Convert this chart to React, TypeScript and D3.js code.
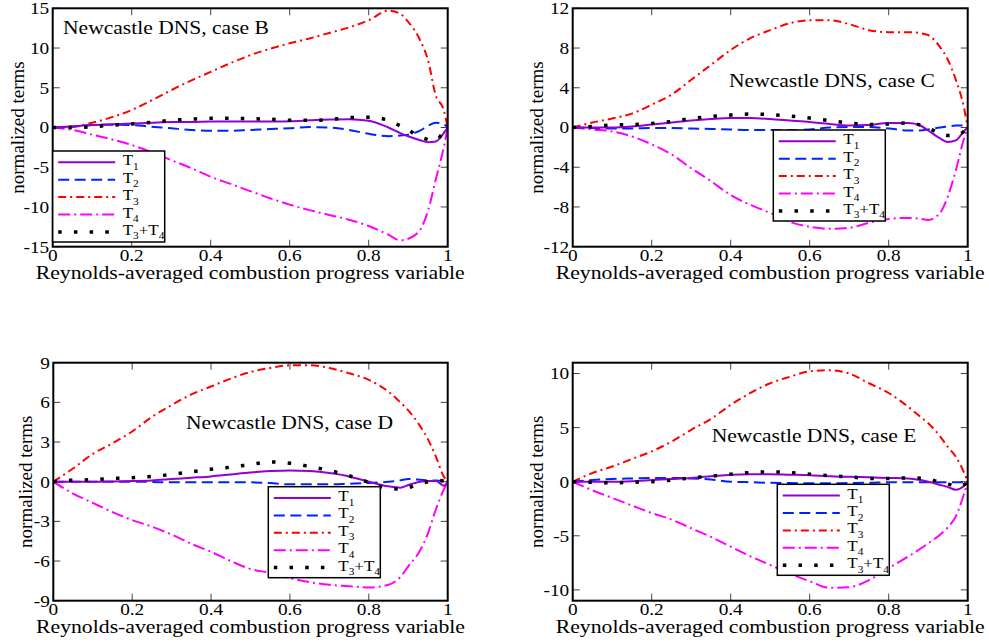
import React from 'react';
import * as d3 from 'd3';

// shared abscissa grid (Reynolds-averaged progress variable)
const xGrid = [0, 0.05, 0.1, 0.15, 0.2, 0.25, 0.3, 0.35, 0.4, 0.45, 0.5, 0.55, 0.6, 0.65, 0.7, 0.75, 0.8, 0.85, 0.88, 0.9, 0.93, 0.95, 0.97, 0.99, 1];
const xTicks = [0, 0.2, 0.4, 0.6, 0.8, 1];
const xTickLabels = ['0', '0.2', '0.4', '0.6', '0.8', '1'];

// case B
const caseB_T1 = [0, 0.15, 0.3, 0.4, 0.5, 0.6, 0.7, 0.7, 0.75, 0.75, 0.75, 0.75, 0.8, 0.9, 1.0, 1.05, 0.85, 0.0, -0.7, -1.1, -1.6, -1.85, -1.75, -0.7, 0];
const caseB_T2 = [0, 0.1, 0.3, 0.35, 0.3, 0.1, -0.1, -0.3, -0.4, -0.4, -0.3, -0.2, -0.1, 0.05, 0.0, -0.3, -0.8, -1.1, -1.0, -0.9, -0.4, 0.2, 0.6, 0.4, 0];
const caseB_T3 = [0, 0.1, 0.6, 1.3, 2.2, 3.4, 4.7, 5.9, 7.0, 8.1, 9.1, 9.9, 10.6, 11.2, 11.9, 12.6, 13.5, 14.7, 14.3, 13.3, 11.0, 8.5, 4.0, 2.2, 0];
const caseB_T4 = [0, -0.3, -0.9, -1.5, -2.2, -3.1, -4.1, -5.1, -6.2, -7.1, -8.0, -8.9, -9.7, -10.4, -11.0, -11.6, -12.4, -13.5, -14.2, -14.0, -12.9, -10.5, -6.5, -2.5, 0];
const caseB_T34 = [0, 0.0, 0.1, 0.3, 0.45, 0.65, 0.9, 1.05, 1.15, 1.15, 1.1, 1.05, 0.9, 0.9, 1.0, 1.25, 1.3, 0.9, 0.2, -0.3, -1.2, -1.5, -1.6, -0.5, 0];

// case C
const caseC_T1 = [0, 0.0, 0.0, 0.1, 0.3, 0.5, 0.7, 0.85, 0.95, 0.95, 0.85, 0.7, 0.55, 0.35, 0.2, 0.25, 0.45, 0.45, 0.2, -0.3, -1.1, -1.45, -1.3, -0.4, 0];
const caseC_T2 = [0, -0.05, -0.1, -0.1, -0.05, -0.05, -0.1, -0.15, -0.2, -0.25, -0.25, -0.25, -0.2, 0.0, 0.05, 0.05, -0.1, -0.3, -0.3, -0.2, 0.0, 0.1, 0.2, 0.2, 0];
const caseC_T3 = [0, 0.5, 0.9, 1.4, 2.3, 3.3, 4.8, 6.3, 7.8, 9.0, 9.8, 10.5, 10.8, 10.8, 10.4, 9.8, 9.6, 9.6, 9.5, 9.3, 8.1, 6.8, 4.8, 2.1, 0];
const caseC_T4 = [0, -0.2, -0.4, -0.9, -1.7, -2.7, -4.1, -5.4, -6.8, -7.8, -8.6, -9.5, -10.0, -10.2, -10.1, -9.6, -9.2, -9.1, -9.2, -9.3, -8.6, -6.9, -4.3, -1.2, 0];
const caseC_T34 = [0, 0.1, 0.25, 0.3, 0.4, 0.6, 0.9, 1.1, 1.25, 1.35, 1.3, 1.15, 0.95, 0.7, 0.45, 0.3, 0.35, 0.45, 0.25, -0.05, -0.6, -0.8, -0.8, -0.4, 0];

// case D
const caseD_T1 = [0, 0, 0, 0.02, 0.05, 0.1, 0.2, 0.3, 0.4, 0.55, 0.7, 0.8, 0.85, 0.8, 0.65, 0.4, 0.0, -0.35, -0.45, -0.25, 0.0, 0.05, 0.05, -0.3, 0];
const caseD_T2 = [0, 0, 0, 0, 0, -0.02, -0.05, -0.05, -0.05, -0.05, -0.05, -0.1, -0.2, -0.2, -0.2, -0.15, -0.1, 0.0, 0.1, 0.2, 0.15, 0.1, 0.1, 0.05, 0];
const caseD_T3 = [0, 1.0, 2.1, 2.9, 3.8, 4.9, 5.8, 6.6, 7.2, 7.8, 8.3, 8.6, 8.8, 8.8, 8.6, 8.2, 7.7, 6.8, 6.0, 5.4, 4.2, 3.2, 1.9, 0.4, 0];
const caseD_T4 = [0, -0.9, -1.6, -2.3, -2.9, -3.4, -4.0, -4.7, -5.3, -6.0, -6.6, -6.9, -7.3, -7.6, -7.8, -7.9, -8.0, -7.8, -7.2, -6.4, -5.2, -3.9, -2.1, -0.6, 0];
const caseD_T34 = [0, 0.12, 0.15, 0.25, 0.3, 0.4, 0.55, 0.75, 0.95, 1.1, 1.3, 1.5, 1.4, 1.15, 0.85, 0.45, -0.05, -0.5, -0.55, -0.45, -0.15, 0.0, 0.1, 0.05, 0];

// case E
const caseE_T1 = [0, 0, 0, 0.05, 0.15, 0.25, 0.35, 0.5, 0.65, 0.7, 0.7, 0.65, 0.6, 0.5, 0.45, 0.4, 0.35, 0.3, 0.15, 0.0, -0.3, -0.5, -0.75, -0.4, 0];
const caseE_T2 = [0, 0.15, 0.25, 0.3, 0.35, 0.35, 0.3, 0.2, 0.0, -0.05, -0.1, -0.12, -0.15, -0.15, -0.12, -0.1, -0.05, -0.05, -0.05, -0.05, -0.05, -0.05, -0.05, -0.05, 0];
const caseE_T3 = [0, 0.8, 1.4, 2.1, 2.8, 3.7, 4.8, 5.8, 7.1, 8.2, 9.1, 9.7, 10.2, 10.3, 10.0, 9.1, 8.2, 6.9, 6.0, 5.4, 4.2, 3.2, 2.3, 0.9, 0];
const caseE_T4 = [0, -0.8, -1.5, -2.2, -2.9, -3.5, -4.3, -5.1, -6.0, -6.9, -7.7, -8.5, -9.2, -9.8, -9.75, -9.1, -8.0, -6.9, -6.2, -5.7, -4.9, -4.2, -3.2, -1.2, 0];
const caseE_T34 = [0, -0.05, -0.1, -0.05, 0.0, 0.15, 0.35, 0.5, 0.7, 0.85, 0.9, 0.85, 0.7, 0.55, 0.45, 0.3, 0.3, 0.35, 0.32, 0.25, -0.05, -0.2, -0.45, -0.3, 0];

const titles = ['Newcastle DNS, case B', 'Newcastle DNS, case C', 'Newcastle DNS, case D', 'Newcastle DNS, case E'];
const yTicksB = [-15, -10, -5, 0, 5, 10, 15];
const yTicksC = [-12, -8, -4, 0, 4, 8, 12];
const yTicksD = [-9, -6, -3, 0, 3, 6, 9];
const yTicksE = [-10, -5, 0, 5, 10];
const seriesSub = [['1'], ['2'], ['3'], ['4'], ['3', '4']];

const styles = [
  { color: '#9400d3', dash: undefined as string | undefined, width: 2 },
  { color: '#0022ff', dash: '11,5.5', width: 2 },
  { color: '#ff0000', dash: '8,4,2,4', width: 2 },
  { color: '#ff00ff', dash: '12,4,2,4', width: 2 },
  { color: '#000000', dash: '3.5,12.2', width: 3.5 },
];

const SX = 1.135;
const FONT = 'Liberation Serif, Times New Roman, Times, serif';

const panels = [
  { title: titles[0], series: [caseB_T1, caseB_T2, caseB_T3, caseB_T4, caseB_T34], yDomain: [-15, 15], yTicks: yTicksB,
    box: { l: 52.7, r: 447.7, t: 8.3, b: 246.7 }, titleXY: [63, 34.3], legXY: [52.7, 151], ylabX: 24 },
  { title: titles[1], series: [caseC_T1, caseC_T2, caseC_T3, caseC_T4, caseC_T34], yDomain: [-12, 12], yTicks: yTicksC,
    box: { l: 572.7, r: 967.7, t: 8.3, b: 246.7 }, titleXY: [729, 87.3], legXY: [773.3, 130], ylabX: 543 },
  { title: titles[2], series: [caseD_T1, caseD_T2, caseD_T3, caseD_T4, caseD_T34], yDomain: [-9, 9], yTicks: yTicksD,
    box: { l: 53.3, r: 447.7, t: 362.7, b: 600.7 }, titleXY: [186, 429], legXY: [268.3, 486.7], ylabX: 32 },
  { title: titles[3], series: [caseE_T1, caseE_T2, caseE_T3, caseE_T4, caseE_T34], yDomain: [-11, 11], yTicks: yTicksE,
    box: { l: 572.7, r: 967.7, t: 362.7, b: 600.7 }, titleXY: [711.7, 441.7], legXY: [777.3, 484.3], ylabX: 543 },
];

function Panel({ p, idx }: { p: any; idx: number }) {
  const { l, r, t, b } = p.box;
  const x = d3.scaleLinear().domain([0, 1]).range([l, r]);
  const y = d3.scaleLinear().domain(p.yDomain).range([b, t]);
  const line = d3.line<number>().x((_, i) => x(xGrid[i])).y((v) => y(v)).curve(d3.curveMonotoneX);
  const clipId = `clip${idx}`;
  const [lx, ly] = p.legXY;
  const TL = 7;
  return (
    <g>
      <defs>
        <clipPath id={clipId}>
          <rect x={l} y={t} width={r - l} height={b - t} />
        </clipPath>
      </defs>
      {xTicks.map((v) => (
        <g key={'xt' + v} stroke="#444" strokeWidth={1}>
          <line x1={x(v)} x2={x(v)} y1={b} y2={b - TL} />
          <line x1={x(v)} x2={x(v)} y1={t} y2={t + TL} />
        </g>
      ))}
      {p.yTicks.map((v: number) => (
        <g key={'yt' + v} stroke="#444" strokeWidth={1}>
          <line x1={l} x2={l + TL} y1={y(v)} y2={y(v)} />
          <line x1={r} x2={r - TL} y1={y(v)} y2={y(v)} />
        </g>
      ))}
      <g clipPath={`url(#${clipId})`}>
        {[2, 3, 1, 0, 4].map((si) => (
          <path key={si} d={line(p.series[si]) || ''} fill="none" stroke={styles[si].color}
            strokeWidth={styles[si].width} strokeDasharray={styles[si].dash} strokeLinecap="butt" />
        ))}
      </g>
      <rect x={l} y={t} width={r - l} height={b - t} fill="none" stroke="#000" strokeWidth={2} />
      {xTicks.map((v, i) => (
        <text key={'xl' + v} transform={`translate(${x(v)},${b + 14.5}) scale(${SX},1)`} textAnchor="middle"
          fontSize={17} fontFamily={FONT} fill="#000">{xTickLabels[i]}</text>
      ))}
      {p.yTicks.map((v: number) => (
        <text key={'yl' + v} transform={`translate(${l - 3.5},${y(v) + 5.9}) scale(${SX},1)`} textAnchor="end"
          fontSize={17} fontFamily={FONT} fill="#000">{String(v)}</text>
      ))}
      <text transform={`translate(${(l + r) / 2},${b + 32.5}) scale(1.144,1)`} textAnchor="middle" fontSize={19}
        fontFamily={FONT} fill="#000">Reynolds-averaged combustion progress variable</text>
      <text transform={`translate(${p.ylabX},${(t + b) / 2}) rotate(-90)`} textAnchor="middle" fontSize={19}
        fontFamily={FONT} fill="#000">normalized terms</text>
      <text transform={`translate(${p.titleXY[0]},${p.titleXY[1]}) scale(${SX},1)`} fontSize={19}
        fontFamily={FONT} fill="#000">{p.title}</text>
      <rect x={lx} y={ly} width={112} height={91} fill="#fff" stroke="#000" strokeWidth={1.5} />
      {styles.map((s, i) => {
        const ry = ly + 11.3 + i * 17.4;
        const sub = seriesSub[i];
        return (
          <g key={'lg' + i}>
            <line x1={lx + 5.5} x2={lx + 62.5} y1={ry} y2={ry} stroke={s.color} strokeWidth={s.width}
              strokeDasharray={s.dash} />
            <text transform={`translate(${lx + 70},${ry + 3}) scale(${SX},1)`} fontSize={15} fontFamily={FONT} fill="#000">
              T<tspan fontSize={10} dy={4.5}>{sub[0]}</tspan>
              {sub.length > 1 ? (
                <>
                  <tspan fontSize={15} dy={-4.5}>+T</tspan>
                  <tspan fontSize={10} dy={4.5}>{sub[1]}</tspan>
                </>
              ) : null}
            </text>
          </g>
        );
      })}
    </g>
  );
}

export default function App() {
  return (
    <svg width={989} height={643} style={{ position: 'absolute', left: 0, top: 0, background: '#fff' }}>
      <rect width={989} height={643} fill="#fff" />
      {panels.map((p, i) => (
        <Panel key={i} p={p} idx={i} />
      ))}
    </svg>
  );
}
